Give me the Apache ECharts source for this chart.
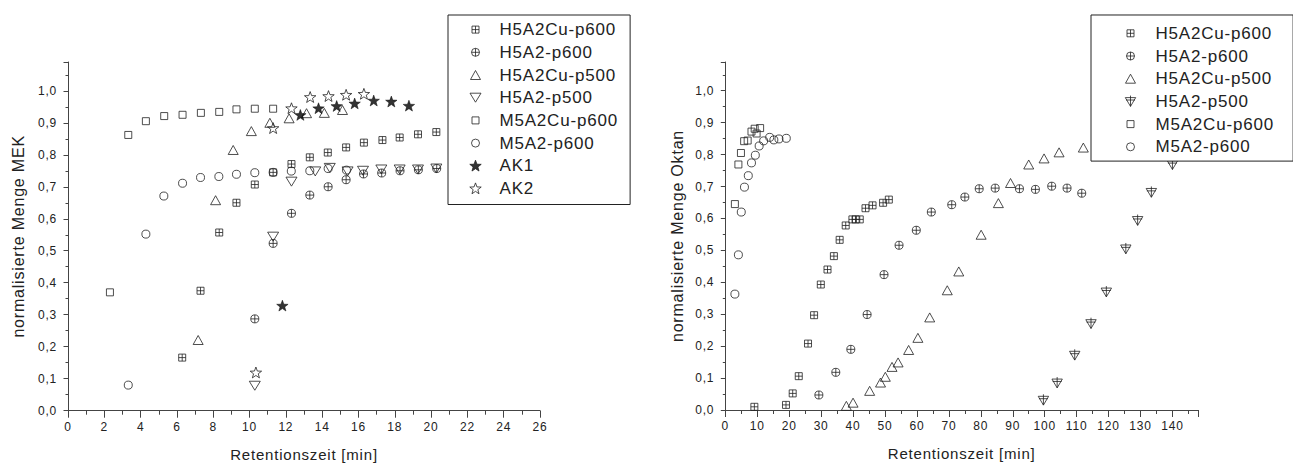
<!DOCTYPE html>
<html>
<head>
<meta charset="utf-8">
<script src="https://cdn.jsdelivr.net/npm/echarts@6/dist/echarts.min.js"></script>
<style>
  html, body { margin: 0; padding: 0; background: #fff; }
  #chart { width: 1293px; height: 465px; letter-spacing: 0.8px; }
</style>
</head>
<body>
<div id="chart"></div>
<script>
// ---- MEK panel: [Retentionszeit min, normalisierte Menge] ----
const mekH5A2CuP600 = [[6.29,0.166],[7.30,0.375],[8.33,0.557],[9.28,0.650],[10.29,0.707],[11.30,0.745],[12.31,0.771],[13.32,0.792],[14.31,0.807],[15.32,0.823],[16.30,0.838],[17.32,0.846],[18.27,0.854],[19.28,0.864],[20.29,0.871]];
const mekH5A2P600   = [[10.29,0.287],[11.30,0.523],[12.31,0.617],[13.32,0.674],[14.33,0.700],[15.32,0.722],[16.28,0.740],[17.28,0.743],[18.29,0.750],[19.30,0.753],[20.31,0.757]];
const mekH5A2CuP500 = [[7.17,0.221],[8.13,0.658],[9.10,0.815],[10.10,0.874],[11.12,0.900],[12.18,0.914],[13.14,0.930],[14.12,0.931],[15.12,0.940]];
const mekH5A2P500   = [[10.29,0.078],[11.30,0.544],[12.31,0.716],[13.62,0.748],[14.42,0.759],[15.40,0.748],[16.25,0.750],[17.26,0.754],[18.27,0.754],[19.28,0.754],[20.29,0.757]];
const mekM5A2CuP600 = [[2.31,0.370],[3.32,0.862],[4.29,0.905],[5.30,0.921],[6.31,0.925],[7.32,0.931],[8.33,0.934],[9.28,0.942],[10.29,0.944],[11.30,0.944]];
const mekM5A2P600   = [[3.32,0.080],[4.29,0.552],[5.28,0.671],[6.31,0.711],[7.30,0.729],[8.31,0.732],[9.28,0.739],[10.29,0.744],[11.30,0.745],[12.30,0.749],[13.32,0.750],[14.33,0.757],[15.34,0.752]];
const mekAK1        = [[11.81,0.328],[12.80,0.924],[13.80,0.945],[14.80,0.952],[15.79,0.960],[16.84,0.969],[17.81,0.966],[18.78,0.953]];
const mekAK2        = [[10.35,0.119],[11.30,0.883],[12.31,0.945],[13.34,0.980],[14.35,0.983],[15.32,0.987],[16.30,0.990]];

// ---- Oktan panel ----
const oktH5A2CuP600 = [[9.1,0.010],[19.0,0.016],[21.1,0.052],[23.0,0.106],[25.9,0.208],[27.8,0.297],[29.9,0.393],[32.0,0.440],[34.0,0.482],[35.8,0.533],[37.7,0.578],[39.8,0.597],[40.8,0.597],[42.1,0.597],[43.9,0.632],[46.1,0.641],[49.4,0.649],[51.2,0.659]];
const oktH5A2P600   = [[29.3,0.047],[34.6,0.118],[39.3,0.190],[44.4,0.299],[49.7,0.424],[54.4,0.516],[59.8,0.563],[64.5,0.620],[70.9,0.643],[75.0,0.667],[79.5,0.693],[84.5,0.695],[92.1,0.693],[97.1,0.691],[102.2,0.701],[107.0,0.695],[111.6,0.679]];
const oktH5A2CuP500 = [[37.9,0.013],[40.0,0.023],[45.2,0.060],[48.6,0.086],[50.1,0.104],[52.2,0.135],[54.1,0.149],[57.4,0.188],[60.3,0.226],[64.0,0.290],[69.5,0.375],[73.1,0.434],[80.1,0.549],[85.5,0.648],[89.3,0.711],[95.0,0.769],[99.8,0.788],[104.5,0.807],[112.1,0.822]];
const oktH5A2P500   = [[99.6,0.031],[103.9,0.085],[109.4,0.172],[114.5,0.271],[119.3,0.370],[125.4,0.505],[129.1,0.594],[133.4,0.682],[140.0,0.769]];
const oktM5A2CuP600 = [[3.0,0.645],[4.1,0.769],[4.9,0.805],[5.9,0.842],[7.0,0.844],[8.2,0.872],[9.2,0.881],[9.8,0.866],[10.9,0.883]];
const oktM5A2P600   = [[3.0,0.363],[4.1,0.486],[5.0,0.620],[6.0,0.698],[7.2,0.734],[8.2,0.774],[9.4,0.798],[10.6,0.827],[12.0,0.843],[13.9,0.854],[15.2,0.846],[16.8,0.849],[19.1,0.851]];

// ---- axis ticks ----
const mekXTicks = { min: 0, max: 26, interval: 2 };
const oktXTicks = { min: 0, max: 148, interval: 10 };
const yTicks    = { min: 0, max: 1.09, interval: 0.1 };

// Marker outlines, all drawn inside a 12x12 frame so that every glyph keeps its own size
const F = 'M0,0M12,12';
const SYM = {
  sqCross:   'path://' + F + 'M2.5,2.5L9.5,2.5L9.5,9.5L2.5,9.5ZM6,2.5L6,9.5M2.5,6L9.5,6',
  circCross: 'path://' + F + 'M2,6A4,4,0,1,1,10,6A4,4,0,1,1,2,6ZM6,2L6,10M2,6L10,6',
  triUp:     'path://' + F + 'M6,1.5L11,10.5L1,10.5Z',
  triDown:   'path://' + F + 'M0.5,1.5L11.5,1.5L6,10.5Z',
  triDownX:  'path://' + F + 'M0.8,2.2L11.2,2.2L6,11ZM6,0.2L6,11M1.5,4.6L10.5,4.6',
  square:    'path://' + F + 'M2.5,2.5L9.5,2.5L9.5,9.5L2.5,9.5Z',
  circle:    'path://' + F + 'M2,6A4,4,0,1,1,10,6A4,4,0,1,1,2,6Z',
  star:      'path://' + F + 'M6,0.4L7.44,4.42L11.71,4.55L8.33,7.16L9.53,11.25L6,8.85L2.47,11.25L3.67,7.16L0.29,4.55L4.56,4.42Z'
};

const INK = '#222';
const FONT = 'Liberation Sans';

function scatter(name, data, grid, symbol, filled) {
  return {
    type: 'scatter', name: name, data: data,
    xAxisIndex: grid, yAxisIndex: grid,
    symbol: symbol, symbolSize: 12,
    itemStyle: { color: filled ? '#000' : 'rgba(0,0,0,0)', borderColor: filled ? '#000' : INK, borderWidth: filled ? 0.6 : 1 },
    emphasis: { disabled: true },
    silent: true
  };
}

function xAxis(grid, t, fmt) {
  return {
    type: 'value', gridIndex: grid, min: t.min, max: t.max, interval: t.interval,
    name: 'Retentionszeit [min]', nameLocation: 'middle', nameGap: 36,
    nameTextStyle: { fontFamily: FONT, fontSize: 15, color: INK },
    axisLine: { show: true, onZero: false, lineStyle: { color: '#444', width: 1 } },
    axisTick: { show: true, inside: false, length: 7, lineStyle: { color: '#444', width: 1 } },
    minorTick: { show: true, splitNumber: 2, length: 4, lineStyle: { color: '#444', width: 1 } },
    splitLine: { show: false }, minorSplitLine: { show: false },
    axisLabel: { fontFamily: FONT, fontSize: 12, color: INK, margin: 10, formatter: fmt, showMinLabel: true, showMaxLabel: true, hideOverlap: false }
  };
}

function yAxis(grid, name, gap) {
  return {
    type: 'value', gridIndex: grid, min: yTicks.min, max: yTicks.max, interval: yTicks.interval,
    name: name, nameLocation: 'middle', nameGap: gap, nameRotate: 90,
    nameTextStyle: { fontFamily: FONT, fontSize: 16, color: INK },
    axisLine: { show: true, onZero: false, lineStyle: { color: '#444', width: 1 } },
    axisTick: { show: true, inside: false, length: 4.5, lineStyle: { color: '#444', width: 1 } },
    minorTick: { show: true, splitNumber: 2, length: 2.5, lineStyle: { color: '#444', width: 1 } },
    splitLine: { show: false }, minorSplitLine: { show: false },
    axisLabel: {
      fontFamily: FONT, fontSize: 12, color: INK, margin: 11, hideOverlap: false,
      formatter: function (v) {
        const k = Math.round(v * 10);
        return Math.abs(v * 10 - k) < 1e-6 ? (k / 10).toFixed(1).replace('.', ',') : '';
      }
    }
  };
}

function legend(left, pad, textPad, items) {
  return {
    orient: 'vertical', left: left, top: 15,
    itemWidth: 12, itemHeight: 12, itemGap: 4.7,
    padding: pad,
    backgroundColor: '#fff', borderColor: '#222', borderWidth: 1, borderRadius: 0,
    selectedMode: false,
    itemStyle: { borderColor: INK, borderWidth: 1 },
    textStyle: { fontFamily: FONT, fontSize: 17, color: INK, lineHeight: 18, padding: [0, 0, 0, textPad] },
    data: items
  };
}

const chart = echarts.init(document.getElementById('chart'), null, { renderer: 'svg' });

chart.setOption({
  animation: false,
  backgroundColor: '#fff',
  grid: [
    { left: 68, top: 62, width: 472, height: 348.7, outerBoundsMode: 'none', containLabel: false },
    { left: 725.3, top: 62, width: 472.7, height: 348, outerBoundsMode: 'none', containLabel: false }
  ],
  xAxis: [
    xAxis(0, mekXTicks, function (v) { return String(v); }),
    xAxis(1, oktXTicks, function (v) { return v % 10 === 0 ? String(v) : ''; })
  ],
  yAxis: [
    yAxis(0, 'normalisierte Menge MEK', 42),
    yAxis(1, 'normalisierte Menge Oktan', 40)
  ],
  legend: [
    legend(448, [5.6, 21, 7, 21], 13, [
      { name: 'H5A2Cu-p600', icon: SYM.sqCross },
      { name: 'H5A2-p600', icon: SYM.circCross },
      { name: 'H5A2Cu-p500', icon: SYM.triUp },
      { name: 'H5A2-p500', icon: SYM.triDown },
      { name: 'M5A2Cu-p600', icon: SYM.square },
      { name: 'M5A2-p600', icon: SYM.circle },
      { name: 'AK1', icon: SYM.star },
      { name: 'AK2', icon: SYM.star }
    ]),
    legend(1091, [9.3, 28, 5.3, 33], 14, [
      { name: 'H5A2Cu-p600', icon: SYM.sqCross },
      { name: 'H5A2-p600', icon: SYM.circCross },
      { name: 'H5A2Cu-p500', icon: SYM.triUp },
      { name: 'H5A2-p500', icon: SYM.triDownX },
      { name: 'M5A2Cu-p600', icon: SYM.square },
      { name: 'M5A2-p600', icon: SYM.circle }
    ])
  ],
  series: [
    scatter('H5A2Cu-p600', mekH5A2CuP600, 0, SYM.sqCross),
    scatter('H5A2-p600',   mekH5A2P600,   0, SYM.circCross),
    scatter('H5A2Cu-p500', mekH5A2CuP500, 0, SYM.triUp),
    scatter('H5A2-p500',   mekH5A2P500,   0, SYM.triDown),
    scatter('M5A2Cu-p600', mekM5A2CuP600, 0, SYM.square),
    scatter('M5A2-p600',   mekM5A2P600,   0, SYM.circle),
    scatter('AK1',         mekAK1,        0, SYM.star, true),
    scatter('AK2',         mekAK2,        0, SYM.star),

    scatter('H5A2Cu-p600', oktH5A2CuP600, 1, SYM.sqCross),
    scatter('H5A2-p600',   oktH5A2P600,   1, SYM.circCross),
    scatter('H5A2Cu-p500', oktH5A2CuP500, 1, SYM.triUp),
    scatter('H5A2-p500',   oktH5A2P500,   1, SYM.triDownX),
    scatter('M5A2Cu-p600', oktM5A2CuP600, 1, SYM.square),
    scatter('M5A2-p600',   oktM5A2P600,   1, SYM.circle)
  ]
});
</script>
</body>
</html>
